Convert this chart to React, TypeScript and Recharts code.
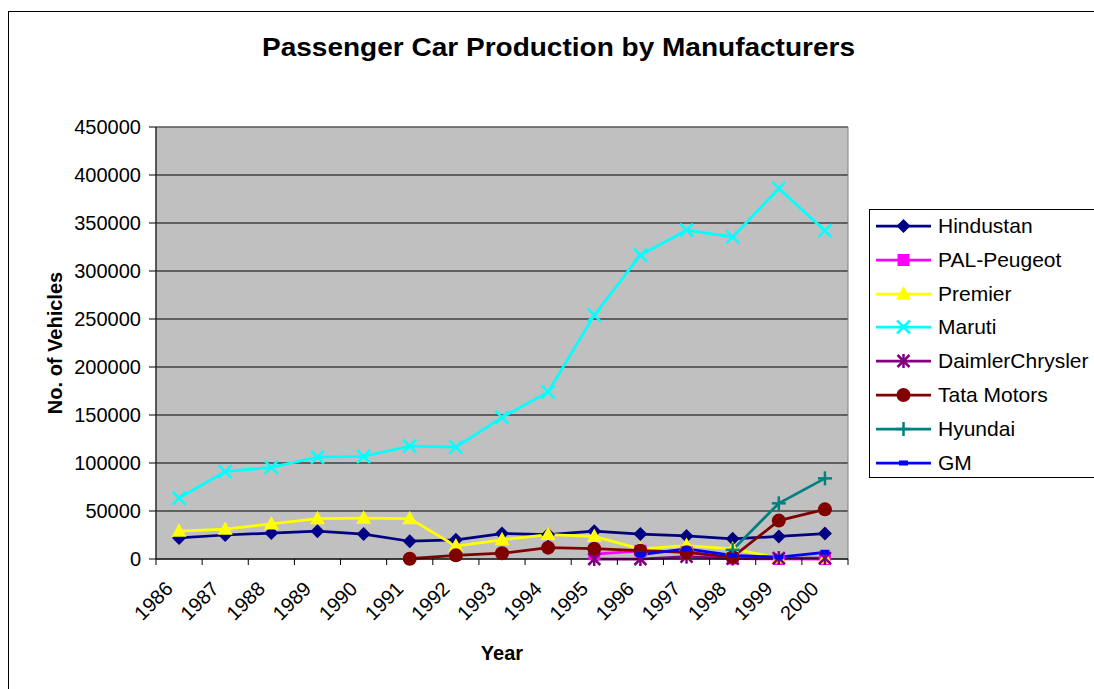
import React from 'react'
import { LineChart, Line, XAxis, YAxis, CartesianGrid, ReferenceArea } from 'recharts'

// values
const years = ['1986', '1987', '1988', '1989', '1990', '1991', '1992', '1993', '1994', '1995', '1996', '1997', '1998', '1999', '2000']
const hindustan = [22000, 25000, 27000, 29000, 26000, 18500, 20000, 26500, 25500, 29000, 26000, 24000, 21000, 23500, 26500]
const peugeot = [null, null, null, null, null, null, null, null, null, 5000, 8500, 7500, 500, 0, 0]
const premier = [29000, 31000, 36500, 42000, 42500, 42000, 13500, 20000, 25500, 23500, 10500, 14000, 10500, 1000, 500]
const maruti = [63500, 91000, 95500, 106000, 107000, 117500, 116500, 147500, 174000, 254000, 316500, 342500, 335500, 386000, 342000]
const daimler = [null, null, null, null, null, null, null, null, null, 0, 0, 2500, 500, 1000, 1000]
const tata = [null, null, null, null, null, 300, 3800, 6000, 11800, 10700, 8700, 7000, 2000, 40000, 51700]
const hyundai = [null, null, null, null, null, null, null, null, null, null, null, null, 9500, 58000, 84000]
const gm = [null, null, null, null, null, null, null, null, null, null, 4500, 10500, 3800, 2000, 7000]
const yTicks = [0, 50000, 100000, 150000, 200000, 250000, 300000, 350000, 400000, 450000]

type MarkerKind = 'diamond' | 'square' | 'triangle' | 'x' | 'star' | 'circle' | 'plus' | 'dash'

const series: { key: string; name: string; color: string; marker: MarkerKind; values: (number | null)[] }[] = [
  { key: 'hindustan', name: 'Hindustan', color: '#000080', marker: 'diamond', values: hindustan },
  { key: 'peugeot', name: 'PAL-Peugeot', color: '#FF00FF', marker: 'square', values: peugeot },
  { key: 'premier', name: 'Premier', color: '#FFFF00', marker: 'triangle', values: premier },
  { key: 'maruti', name: 'Maruti', color: '#00FFFF', marker: 'x', values: maruti },
  { key: 'daimler', name: 'DaimlerChrysler', color: '#800080', marker: 'star', values: daimler },
  { key: 'tata', name: 'Tata Motors', color: '#800000', marker: 'circle', values: tata },
  { key: 'hyundai', name: 'Hyundai', color: '#008080', marker: 'plus', values: hyundai },
  { key: 'gm', name: 'GM', color: '#0000FF', marker: 'dash', values: gm },
]

const data = years.map((year, i) => {
  const row: Record<string, number | string | null> = { i, year }
  series.forEach((s) => { row[s.key] = s.values[i] })
  return row
})

// category centres get a label, the half steps between them get a tick mark
const xTicks: number[] = []
years.forEach((_, i) => { xTicks.push(i - 0.5, i) })
xTicks.push(years.length - 0.5)
const FONT = '"Liberation Sans", Arial, sans-serif'

function Marker({ kind, cx, cy, color }: { kind: MarkerKind; cx: number; cy: number; color: string }) {
  switch (kind) {
    case 'diamond':
      return <polygon points={`${cx},${cy - 7} ${cx + 7},${cy} ${cx},${cy + 7} ${cx - 7},${cy}`} fill={color} />
    case 'square':
      return <rect x={cx - 6} y={cy - 6} width={12} height={12} fill={color} />
    case 'triangle':
      return <polygon points={`${cx},${cy - 8} ${cx + 7.5},${cy + 5.5} ${cx - 7.5},${cy + 5.5}`} fill={color} />
    case 'x':
      return (
        <g stroke={color} strokeWidth={2.5}>
          <line x1={cx - 6.5} y1={cy - 6.5} x2={cx + 6.5} y2={cy + 6.5} />
          <line x1={cx - 6.5} y1={cy + 6.5} x2={cx + 6.5} y2={cy - 6.5} />
        </g>
      )
    case 'star':
      return (
        <g stroke={color} strokeWidth={2.5}>
          <line x1={cx - 6} y1={cy - 6} x2={cx + 6} y2={cy + 6} />
          <line x1={cx - 6} y1={cy + 6} x2={cx + 6} y2={cy - 6} />
          <line x1={cx} y1={cy - 7} x2={cx} y2={cy + 7} />
        </g>
      )
    case 'circle':
      return <circle cx={cx} cy={cy} r={7} fill={color} />
    case 'plus':
      return (
        <g stroke={color} strokeWidth={2.5}>
          <line x1={cx - 7} y1={cy} x2={cx + 7} y2={cy} />
          <line x1={cx} y1={cy - 7} x2={cx} y2={cy + 7} />
        </g>
      )
    default:
      return <rect x={cx - 4.5} y={cy - 2.5} width={9} height={5} fill={color} />
  }
}

function YearTick({ x, y, payload }: any) {
  const v = payload.value
  if (!Number.isInteger(v)) {
    return <line x1={x} y1={y} x2={x} y2={y + 6} stroke="#000" strokeWidth={1} />
  }
  const tx = x - 5
  const ty = y + 31
  return (
    <text x={tx} y={ty} transform={`rotate(-45 ${tx} ${ty})`} textAnchor="end" fontSize={20} fill="#000" fontFamily={FONT}>
      {years[v]}
    </text>
  )
}

function YearTitle({ viewBox }: any) {
  return (
    <text x={viewBox.x + viewBox.width / 2} y={660} textAnchor="middle" fontSize={20} fontWeight="bold" fill="#000" fontFamily={FONT}>
      Year
    </text>
  )
}

function VehiclesTitle({ viewBox }: any) {
  const x = 62
  const y = viewBox.y + viewBox.height / 2
  return (
    <text x={x} y={y} transform={`rotate(-90 ${x} ${y})`} textAnchor="middle" fontSize={20} fontWeight="bold" fill="#000" fontFamily={FONT}>
      No. of Vehicles
    </text>
  )
}

export default function App() {
  return (
    <div style={{ position: 'fixed', left: 0, top: 0, width: 1094, height: 689, overflow: 'hidden', background: '#fff', fontFamily: FONT }}>
      <div style={{ position: 'absolute', left: 8, top: 11, width: 1200, height: 800, borderLeft: '1px solid #000', borderTop: '1px solid #000' }} />
      <svg width={1094} height={80} style={{ position: 'absolute', left: 0, top: 0 }}>
        <text x={558.5} y={56} textAnchor="middle" fontSize={25} fontWeight="bold" fill="#000" fontFamily={FONT} textLength={593} lengthAdjust="spacingAndGlyphs">
          Passenger Car Production by Manufacturers
        </text>
      </svg>
      <div style={{ position: 'absolute', left: 0, top: 0 }}>
        <LineChart width={1094} height={689} data={data} margin={{ top: 127, right: 246, left: 0, bottom: 0 }}>
          <CartesianGrid vertical={false} stroke="#000" strokeWidth={1} fill="#C0C0C0" fillOpacity={1} />
          <XAxis
            type="number" dataKey="i" domain={[-0.5, years.length - 0.5]}
            ticks={xTicks} interval={0} tick={<YearTick />} tickSize={0} tickMargin={0}
            axisLine={{ stroke: '#000' }} tickLine={false} height={130} label={<YearTitle />}
          />
          <YAxis
            type="number" domain={[0, 450000]} ticks={yTicks} interval={0} width={156}
            tickSize={7} tickMargin={8} stroke="#000"
            tick={{ fontSize: 20, fill: '#000', fontFamily: FONT }}
            label={<VehiclesTitle />}
          />
          <ReferenceArea x1={-0.5} x2={years.length - 0.5} y1={0} y2={450000} fill="none" stroke="#808080" strokeWidth={1} />
          {series.map((s) => (
            <Line
              key={s.key}
              type="linear"
              dataKey={s.key}
              name={s.name}
              stroke={s.color}
              strokeWidth={2.75}
              isAnimationActive={false}
              activeDot={false}
              dot={(p: any) =>
                p.cy == null || p.value == null ? (
                  <g key={`${s.key}-${p.index}`} />
                ) : (
                  <Marker key={`${s.key}-${p.index}`} kind={s.marker} cx={p.cx} cy={p.cy} color={s.color} />
                )
              }
            />
          ))}
        </LineChart>
      </div>
      <div style={{ position: 'absolute', left: 869, top: 209, width: 260, height: 269, border: '1px solid #000', boxSizing: 'border-box', background: '#fff' }}>
        {series.map((s, idx) => (
          <div key={s.key} style={{ position: 'absolute', left: 0, top: 16 + idx * 33.8 - 17, height: 34, display: 'flex', alignItems: 'center' }}>
            <svg width={68} height={34}>
              <line x1={6} y1={17} x2={61} y2={17} stroke={s.color} strokeWidth={2.75} />
              <Marker kind={s.marker} cx={33.5} cy={17} color={s.color} />
            </svg>
            <span style={{ fontSize: 21, color: '#000', whiteSpace: 'nowrap', lineHeight: '34px' }}>{s.name}</span>
          </div>
        ))}
      </div>
    </div>
  )
}
